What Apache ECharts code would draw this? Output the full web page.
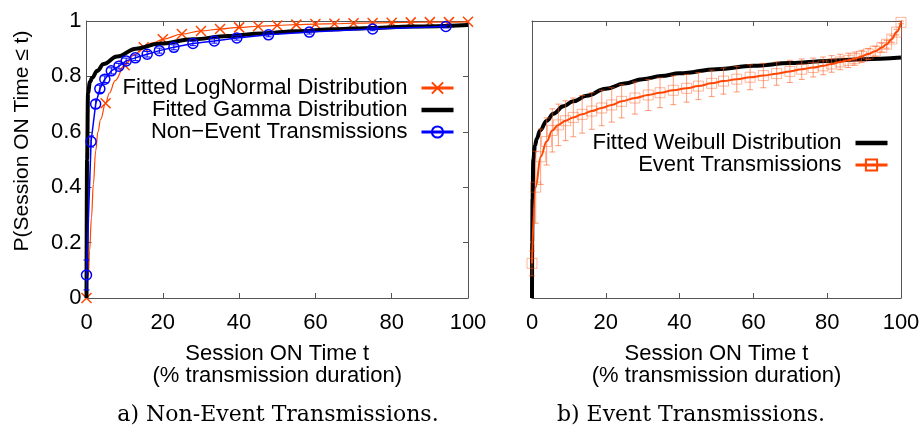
<!DOCTYPE html>
<html><head><meta charset="utf-8">
<script src="https://cdn.jsdelivr.net/npm/echarts@6/dist/echarts.min.js"></script>
<style>html,body{margin:0;padding:0;background:#fff}#c{width:923px;height:433px}</style>
</head><body><div id="c"></div>
<script>
// ---- tick labels ----
const xTicks = [0, 20, 40, 60, 80, 100];
const xTickLabels = ['0', '20', '40', '60', '80', '100'];
const yTicks = [0, 0.2, 0.4, 0.6, 0.8, 1];
const yTickLabels = ['0', '0.2', '0.4', '0.6', '0.8', '1'];

// ---- (a) Non-Event transmissions ----
const lognX = [0, 0.5, 0.8, 1.3, 1.8, 2.4, 3, 3.7, 5, 6, 7.5, 10, 12.5, 15, 17.5, 20, 25, 30, 35, 40, 45, 50, 55, 60, 65, 70, 75, 80, 85, 90, 95, 100];
const lognY = [0, 0.08, 0.17, 0.29, 0.41, 0.53, 0.6, 0.645, 0.703, 0.74, 0.785, 0.84, 0.878, 0.905, 0.922, 0.934, 0.953, 0.964, 0.971, 0.977, 0.981, 0.984, 0.987, 0.989, 0.99, 0.992, 0.993, 0.994, 0.995, 0.996, 0.996, 0.997];
const lognMarkerX = [0, 5, 10, 15, 20, 25, 30, 35, 40, 45, 50, 55, 60, 65, 70, 75, 80, 85, 90, 95, 100];

const gammaX = [0, 0.15, 0.4, 0.9, 1.5, 2.8, 4.5, 8, 13, 19, 28, 37, 46, 55, 65, 75, 85, 100];
const gammaY = [0, 0.5, 0.74, 0.78, 0.795, 0.82, 0.845, 0.872, 0.9, 0.918, 0.934, 0.946, 0.955, 0.963, 0.97, 0.975, 0.98, 0.986];

const nonEventX = [0, 1.2, 2.4, 3.5, 4.8, 6.5, 8.5, 10.4, 12.8, 15.9, 19.1, 22.9, 27.9, 33.5, 39.4, 47.7, 58.4, 75, 94.2];
const nonEventY = [0.083, 0.565, 0.70, 0.755, 0.79, 0.82, 0.837, 0.856, 0.867, 0.88, 0.893, 0.905, 0.919, 0.928, 0.939, 0.95, 0.96, 0.971, 0.98];
const nonEventErr = [0.054, 0.02, 0.015, 0.013, 0.012, 0.011, 0.01, 0.01, 0.01, 0.01, 0.009, 0.009, 0.008, 0.008, 0.008, 0.007, 0.007, 0.006, 0.005];

// ---- (b) Event transmissions ----
const weibullX = [0, 0.05, 0.15, 0.36, 0.8, 1.3, 2.2, 4, 5.8, 8.5, 11.2, 14.8, 20, 25, 30, 35, 40, 50, 60, 70, 80, 90, 100];
const weibullY = [0, 0.2, 0.36, 0.5, 0.55, 0.575, 0.605, 0.64, 0.665, 0.692, 0.71, 0.73, 0.755, 0.774, 0.79, 0.801, 0.811, 0.826, 0.838, 0.848, 0.856, 0.862, 0.868];

const eventX = [0, 1.0, 2.35, 3.97, 5.5, 7.14, 9.1, 11.2, 13.6, 16.2, 18.9, 21.6, 24.3, 27.9, 31.5, 34.7, 38.3, 41.9, 45.1, 48.7, 51.9, 55.5, 59.1, 62.7, 66.3, 69.9, 73.1, 76.2, 78.9, 81.2, 83.5, 85.7, 87.5, 89.3, 91.1, 93, 94.8, 96.1, 97.5, 98.8, 100];
const eventY = [0.125, 0.40, 0.51, 0.565, 0.605, 0.625, 0.64, 0.652, 0.663, 0.675, 0.686, 0.697, 0.71, 0.722, 0.733, 0.741, 0.75, 0.757, 0.765, 0.775, 0.783, 0.79, 0.797, 0.803, 0.81, 0.818, 0.826, 0.832, 0.838, 0.845, 0.852, 0.858, 0.864, 0.872, 0.881, 0.891, 0.904, 0.916, 0.935, 0.96, 0.995];
const eventErr = [0.045, 0.13, 0.1, 0.085, 0.078, 0.075, 0.072, 0.07, 0.068, 0.066, 0.064, 0.062, 0.06, 0.058, 0.056, 0.054, 0.052, 0.05, 0.049, 0.048, 0.047, 0.046, 0.045, 0.044, 0.042, 0.04, 0.037, 0.034, 0.032, 0.03, 0.028, 0.026, 0.024, 0.022, 0.02, 0.018, 0.016, 0.014, 0.012, 0.01, 0.005];

// ---- texts ----
const seriesNames = ['Fitted LogNormal Distribution', 'Fitted Gamma Distribution', 'Non\u2212Event Transmissions', 'Fitted Weibull Distribution', 'Event Transmissions'];
const xAxisName = 'Session ON Time t\n(% transmission duration)';
const yAxisName = 'P(Session ON Time \u2264 t)';
const captions = ['a) Non-Event Transmissions.', 'b) Event Transmissions.'];

// ---- styles ----
const FONT = '"Liberation Sans", Arial, Helvetica, sans-serif';
const SERIF = '"DejaVu Serif", "Liberation Serif", serif';
const FS = 22;
const AXIS = '#555';
const ORANGE = '#ff4500';
const BLUE = '#0000ff';
const X_SYMBOL = 'path://M0,0L10,10M10,0L0,10';
const SQ_SYMBOL = 'path://M0,0H10V10H0Z';

const zip = (xs, ys) => xs.map((x, i) => [x, ys[i]]);
const errData = (xs, ys, es) => xs.map((x, i) => [x, ys[i] - es[i], ys[i] + es[i]]);

function errRender(color, hw) {
  return function (params, api) {
    const x = api.value(0), lo = api.value(1), hi = api.value(2);
    const p1 = api.coord([x, lo]), p2 = api.coord([x, hi]);
    const st = { stroke: color, lineWidth: 1 };
    return { type: 'group', children: [
      { type: 'line', shape: { x1: p1[0], y1: p1[1], x2: p2[0], y2: p2[1] }, style: st },
      { type: 'line', shape: { x1: p1[0] - hw, y1: p1[1], x2: p1[0] + hw, y2: p1[1] }, style: st },
      { type: 'line', shape: { x1: p2[0] - hw, y1: p2[1], x2: p2[0] + hw, y2: p2[1] }, style: st }
    ]};
  };
}

function xAx(gridIndex, position, main) {
  return {
    type: 'value', gridIndex, position, min: 0, max: 100, interval: 20,
    axisLine: { show: true, onZero: false, lineStyle: { color: AXIS, width: 1 } },
    axisTick: { show: true, inside: true, length: 5, lineStyle: { color: AXIS } },
    axisLabel: { show: main, margin: 14, fontSize: FS, fontFamily: FONT, color: '#000',
      formatter: v => xTickLabels[xTicks.indexOf(v)] },
    splitLine: { show: false },
    name: main ? xAxisName : '', nameLocation: 'middle', nameGap: 45,
    nameTextStyle: { fontSize: FS, fontFamily: FONT, color: '#000', lineHeight: 22 }
  };
}
function yAx(gridIndex, position, ticks, labels) {
  return {
    type: 'value', gridIndex, position, min: 0, max: 1, interval: 0.2,
    axisLine: { show: true, onZero: false, lineStyle: { color: AXIS, width: 1 } },
    axisTick: { show: ticks, inside: true, length: 5, lineStyle: { color: AXIS } },
    axisLabel: { show: labels, margin: 5, fontSize: FS, fontFamily: FONT, color: '#000',
      formatter: v => yTickLabels[yTicks.findIndex(t => Math.abs(t - v) < 1e-9)] },
    splitLine: { show: false }
  };
}

const lognData = lognX.map((x, i) => lognMarkerX.includes(x) ? [x, lognY[i]] : { value: [x, lognY[i]], symbol: 'none' });

const legendText = { fontSize: FS, fontFamily: FONT, color: '#000', lineHeight: 22, padding: [0, 9, 0, 0] };

const option = {
  animation: false,
  backgroundColor: '#fff',
  grid: [
    { left: 86.5, right: 455, top: 21, bottom: 135, containLabel: false, outerBoundsMode: 'none' },
    { left: 532, right: 22, top: 21, bottom: 135, containLabel: false, outerBoundsMode: 'none' }
  ],
  xAxis: [ xAx(0, 'bottom', true), xAx(0, 'top', false), xAx(1, 'bottom', true), xAx(1, 'top', false) ],
  yAxis: [ yAx(0, 'left', true, true), yAx(0, 'right', true, false), yAx(1, 'left', false, false), yAx(1, 'right', false, false) ],
  legend: [
    {
      data: [
        { name: seriesNames[0], lineStyle: { width: 3 } },
        { name: seriesNames[1], icon: 'path://M0,0H32V4.5H0Z' },
        { name: seriesNames[2], lineStyle: { width: 3 } }
      ],
      orient: 'vertical', align: 'right', right: 468, top: 77, padding: 0,
      itemWidth: 32, itemHeight: 14, itemGap: 0, selectedMode: false, textStyle: legendText
    },
    {
      data: [
        { name: seriesNames[3], icon: 'path://M0,0H32V4.5H0Z' },
        { name: seriesNames[4], lineStyle: { width: 3 }, itemStyle: { borderColor: ORANGE, borderWidth: 2 } }
      ],
      orient: 'vertical', align: 'right', right: 34, top: 132, padding: 0,
      itemWidth: 32, itemHeight: 14, itemGap: 0, selectedMode: false, textStyle: legendText
    }
  ],
  series: [
    { name: seriesNames[0], type: 'line', xAxisIndex: 0, yAxisIndex: 0, data: lognData,
      smooth: 0.4, smoothMonotone: 'x', symbol: X_SYMBOL, symbolSize: 10,
      lineStyle: { color: ORANGE, width: 1.2 },
      itemStyle: { color: 'rgba(0,0,0,0)', borderColor: ORANGE, borderWidth: 1.5 },
      emphasis: { disabled: true }, z: 2 },
    { name: seriesNames[1], type: 'line', xAxisIndex: 0, yAxisIndex: 0, data: zip(gammaX, gammaY),
      smooth: 0.4, smoothMonotone: 'x', symbol: 'none',
      lineStyle: { color: '#000', width: 4 }, itemStyle: { color: '#000' },
      emphasis: { disabled: true }, z: 3 },
    { name: 'nonEventErr', type: 'custom', xAxisIndex: 0, yAxisIndex: 0,
      data: errData(nonEventX, nonEventY, nonEventErr), encode: { x: 0, y: [1, 2] },
      renderItem: errRender(BLUE, 3), z: 4, silent: true },
    { name: seriesNames[2], type: 'line', xAxisIndex: 0, yAxisIndex: 0, data: zip(nonEventX, nonEventY),
      symbol: 'circle', symbolSize: 10,
      lineStyle: { color: BLUE, width: 1.5 },
      itemStyle: { color: 'rgba(0,0,0,0)', borderColor: BLUE, borderWidth: 1.5 },
      emphasis: { disabled: true }, z: 5 },

    { name: seriesNames[3], type: 'line', xAxisIndex: 2, yAxisIndex: 2, data: zip(weibullX, weibullY),
      smooth: 0.4, smoothMonotone: 'x', symbol: 'none',
      lineStyle: { color: '#000', width: 4 }, itemStyle: { color: '#000' },
      emphasis: { disabled: true }, z: 3 },
    { name: 'eventErr', type: 'custom', xAxisIndex: 2, yAxisIndex: 2,
      data: errData(eventX, eventY, eventErr), encode: { x: 0, y: [1, 2] },
      renderItem: errRender('rgba(255,90,30,0.6)', 3), z: 4, silent: true },
    { name: seriesNames[4], type: 'line', xAxisIndex: 2, yAxisIndex: 2, data: zip(eventX, eventY),
      smooth: 0.4, smoothMonotone: 'x', symbol: SQ_SYMBOL, symbolSize: 10,
      lineStyle: { color: ORANGE, width: 2 },
      itemStyle: { color: 'rgba(0,0,0,0)', borderColor: 'rgba(255,90,30,0.45)', borderWidth: 1 },
      emphasis: { disabled: true }, z: 5 }
  ],
  graphic: [
    { type: 'text', x: 22, y: 141, rotation: Math.PI / 2,
      style: { text: yAxisName, font: '21px ' + FONT, fill: '#000', align: 'center', verticalAlign: 'middle' } },
    { type: 'text', x: 278, y: 415,
      style: { text: captions[0], font: '22px ' + SERIF, fill: '#000', align: 'center', verticalAlign: 'middle' } },
    { type: 'text', x: 691, y: 415,
      style: { text: captions[1], font: '22px ' + SERIF, fill: '#000', align: 'center', verticalAlign: 'middle' } }
  ]
};

const chart = echarts.init(document.getElementById('c'), null, { renderer: 'canvas' });
chart.setOption(option);
</script>
</body></html>
